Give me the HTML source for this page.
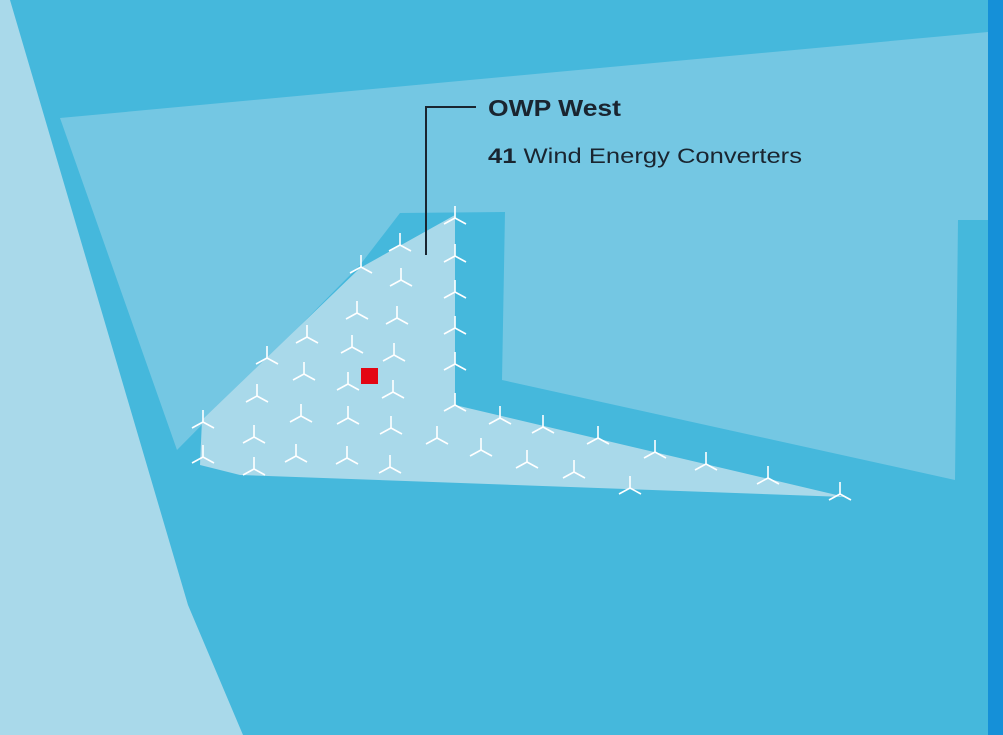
<!DOCTYPE html>
<html><head><meta charset="utf-8"><style>html,body{margin:0;padding:0;background:#45b8dc;overflow:hidden;width:1003px;height:735px}svg{display:block}</style></head>
<body>
<svg width="1003" height="735" viewBox="0 0 1003 735" xmlns="http://www.w3.org/2000/svg">
<defs>
<g id="t" stroke="#fff" stroke-width="1.6" fill="none">
<line x1="0" y1="0" x2="0" y2="-12"/>
<line x1="0" y1="0" x2="-11" y2="6"/>
<line x1="0" y1="0" x2="11" y2="6"/>
</g>
</defs>
<rect width="1003" height="735" fill="#45b8dc"/>
<polygon points="0,0 10,0 188,605 243,735 0,735" fill="#a9d9ea"/>
<polygon points="60,118 988,32 988,220 958,220 955,480 502,380 505,212 400,213 360,265 177,450" fill="#74c7e3"/>
<rect x="988" y="0" width="15" height="735" fill="#1590d8"/>
<polygon points="455,215 455,405 845,497 240,475 200,465 202,420 360,268" fill="#a9d9ea"/>
<rect x="361" y="368" width="17" height="16" fill="#e30613"/>
<g>
<use href="#t" x="455" y="218"/><use href="#t" x="400" y="245"/><use href="#t" x="361" y="267"/>
<use href="#t" x="455" y="256"/><use href="#t" x="401" y="280"/><use href="#t" x="455" y="292"/>
<use href="#t" x="357" y="313"/><use href="#t" x="397" y="318"/><use href="#t" x="455" y="328"/>
<use href="#t" x="307" y="337"/><use href="#t" x="352" y="347"/><use href="#t" x="394" y="355"/>
<use href="#t" x="455" y="364"/><use href="#t" x="267" y="358"/><use href="#t" x="304" y="374"/>
<use href="#t" x="348" y="384"/><use href="#t" x="393" y="392"/><use href="#t" x="455" y="405"/>
<use href="#t" x="257" y="396"/><use href="#t" x="301" y="416"/><use href="#t" x="348" y="418"/>
<use href="#t" x="391" y="428"/><use href="#t" x="437" y="438"/><use href="#t" x="500" y="418"/>
<use href="#t" x="543" y="427"/><use href="#t" x="598" y="438"/><use href="#t" x="655" y="452"/>
<use href="#t" x="706" y="464"/><use href="#t" x="768" y="478"/><use href="#t" x="840" y="494"/>
<use href="#t" x="203" y="422"/><use href="#t" x="254" y="437"/><use href="#t" x="296" y="456"/>
<use href="#t" x="347" y="458"/><use href="#t" x="390" y="467"/><use href="#t" x="203" y="457"/>
<use href="#t" x="254" y="469"/><use href="#t" x="481" y="450"/><use href="#t" x="527" y="462"/>
<use href="#t" x="574" y="472"/><use href="#t" x="630" y="488"/>
</g>
<polyline points="426,255 426,107 476,107" fill="none" stroke="#1a2530" stroke-width="2"/>
<text x="488" y="116" font-family="Liberation Sans, sans-serif" font-weight="bold" font-size="23" fill="#1a2530" textLength="133" lengthAdjust="spacingAndGlyphs">OWP West</text>
<text x="488" y="163" font-family="Liberation Sans, sans-serif" font-size="21" fill="#1a2530" textLength="314" lengthAdjust="spacingAndGlyphs"><tspan font-weight="bold">41</tspan> Wind Energy Converters</text>
</svg>
</body></html>
